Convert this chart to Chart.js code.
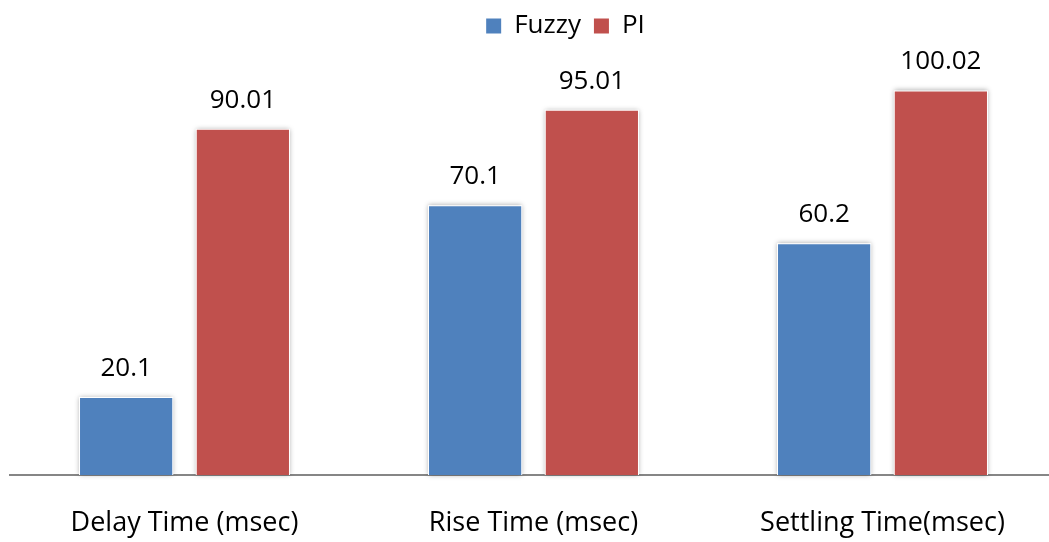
<!DOCTYPE html>
<html>
<head>
<meta charset="utf-8">
<script src="https://cdn.jsdelivr.net/npm/chart.js@4.4.1/dist/chart.umd.min.js"></script>
<style>
  html, body { margin: 0; padding: 0; background: #fff; overflow: hidden; }
  canvas { display: block; }
</style>
</head>
<body>
<canvas id="c" width="1057" height="542" style="width:1057px;height:542px"></canvas>
<script>
const categories = ["Delay Time (msec)", "Rise Time (msec)", "Settling Time(msec)"];
const fuzzyValues = [20.1, 70.1, 60.2];
const piValues = [90.01, 95.01, 100.02];
const valueLabels = [["20.1", "70.1", "60.2"], ["90.01", "95.01", "100.02"]];

const FONT = "'Open Sans', 'DejaVu Sans', sans-serif";

const shadowPlugin = {
  id: 'barShadow',
  beforeDraw(chart) {
    if (chart.legend) {
      chart.legend.left += 32;
      chart.legend.right += 32;
    }
  },
  beforeDatasetsDraw(chart) {
    const ctx = chart.ctx;
    ctx.save();
    ctx.shadowColor = 'rgba(0,0,0,0.35)';
    ctx.shadowBlur = 5;
    ctx.fillStyle = '#ffffff';
    chart.data.datasets.forEach((ds, i) => {
      chart.getDatasetMeta(i).data.forEach(bar => {
        const p = bar.getProps(['x', 'y', 'base', 'width'], true);
        ctx.fillRect(p.x - p.width / 2 - 1, p.y - 1, p.width + 2, p.base - p.y + 1);
      });
    });
    ctx.restore();
  },
  afterDatasetsDraw(chart) {
    const ctx = chart.ctx;
    ctx.save();
    ctx.font = "26px " + FONT;
    ctx.fillStyle = '#000';
    ctx.textAlign = 'center';
    ctx.textBaseline = 'alphabetic';
    chart.data.datasets.forEach((ds, i) => {
      chart.getDatasetMeta(i).data.forEach((bar, j) => {
        const p = bar.getProps(['x', 'y'], true);
        ctx.fillText(valueLabels[i][j], p.x, p.y - 22);
      });
    });
    ctx.restore();
  }
};

new Chart(document.getElementById('c'), {
  type: 'bar',
  data: {
    labels: categories,
    datasets: [
      { label: 'Fuzzy', data: fuzzyValues, backgroundColor: '#4F81BD', borderWidth: 0 },
      { label: 'PI', data: piValues, backgroundColor: '#C0504D', borderWidth: 0 }
    ]
  },
  options: {
    responsive: false,
    animation: false,
    categoryPercentage: 0.669,
    barPercentage: 0.79,
    layout: { padding: { left: 10, right: 0, top: 0, bottom: 0 } },
    plugins: {
      legend: {
        position: 'top',
        labels: {
          font: { family: FONT, size: 26 },
          color: '#000',
          boxWidth: 15,
          boxHeight: 15,
          padding: 13
        }
      },
      tooltip: { enabled: false }
    },
    scales: {
      x: {
        grid: { display: false, drawTicks: false },
        border: { display: true, color: '#868686', width: 2 },
        ticks: { font: { family: FONT, size: 27 }, color: '#000', padding: 32, maxRotation: 0 },
        afterFit(scale) { scale.height = 67; }
      },
      y: {
        display: false,
        min: 0,
        max: 111.1
      }
    }
  },
  plugins: [shadowPlugin]
});
</script>
</body>
</html>
